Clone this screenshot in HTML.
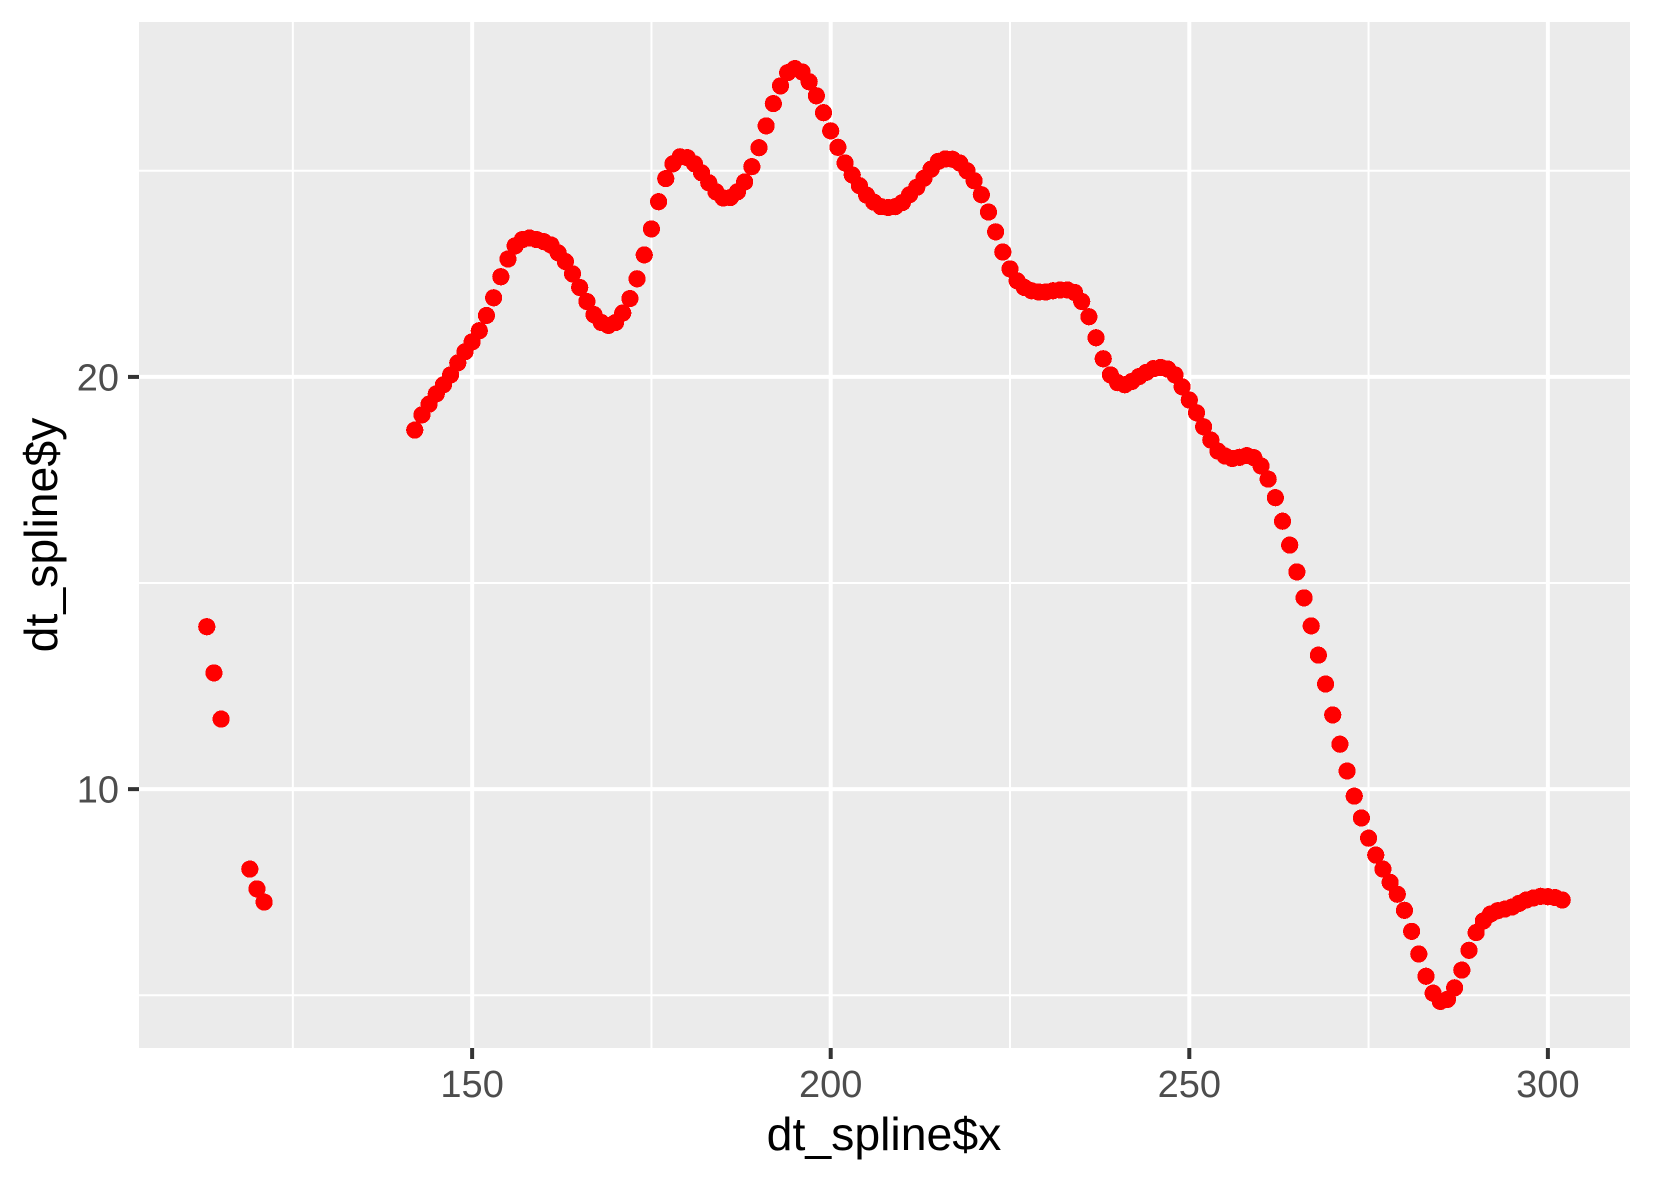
<!DOCTYPE html>
<html lang="en">
<head>
<meta charset="utf-8">
<title>dt_spline scatter plot</title>
<style>
html,body{margin:0;padding:0;background:#fff;}
svg{display:block;}
text{font-family:"Liberation Sans",Arial,sans-serif;}
</style>
</head>
<body>
<svg id="chart" xmlns="http://www.w3.org/2000/svg" width="1653" height="1181" viewBox="0 0 1653 1181">
  <rect x="0" y="0" width="1653" height="1181" fill="#ffffff"/>
  <rect x="139" y="22" width="1491" height="1026" fill="#ebebeb"/>
  <g id="grid"></g>
  <g id="ticks"></g>
  <g id="points"></g>
  <text x="884" y="1150" font-size="46.4" text-anchor="middle" fill="#000000">dt_spline$x</text>
  <text transform="translate(57,535) rotate(-90)" x="0" y="0" font-size="46.4" text-anchor="middle" fill="#000000">dt_spline$y</text>
</svg>
<script>
const xValues = [
  113,114,115,119,120,121,
  142,143,144,145,146,147,148,149,150,151,152,153,154,155,
  156,157,158,159,160,161,162,163,164,165,166,167,168,169,170,
  171,172,173,174,175,176,177,178,179,180,181,182,183,184,185,
  186,187,188,189,190,191,192,193,194,195,196,197,198,199,200,
  201,202,203,204,205,206,207,208,209,210,211,212,213,214,215,
  216,217,218,219,220,221,222,223,224,225,226,227,228,229,230,
  231,232,233,234,235,236,237,238,239,240,241,242,243,244,245,
  246,247,248,249,250,251,252,253,254,255,256,257,258,259,260,
  261,262,263,264,265,266,267,268,269,270,271,272,273,274,275,
  276,277,278,279,280,281,282,283,284,285,286,287,288,289,290,
  291,292,293,294,295,296,297,298,299,300,301,302
];
const yValues = [
  13.94,12.82,11.70,8.06,7.58,7.26,
  18.71,19.08,19.34,19.59,19.81,20.05,20.34,20.61,20.85,21.12,21.49,21.92,22.43,22.86,
  23.18,23.33,23.37,23.33,23.28,23.20,23.01,22.80,22.50,22.17,21.83,21.51,21.32,21.25,21.32,
  21.55,21.90,22.38,22.96,23.59,24.25,24.81,25.17,25.34,25.32,25.17,24.95,24.71,24.49,24.34,
  24.35,24.49,24.73,25.10,25.56,26.09,26.63,27.06,27.38,27.48,27.40,27.16,26.82,26.41,25.97,
  25.57,25.19,24.90,24.64,24.41,24.24,24.13,24.11,24.13,24.23,24.42,24.60,24.82,25.04,25.23,
  25.29,25.28,25.19,25.00,24.76,24.42,24.00,23.52,23.03,22.62,22.33,22.17,22.09,22.06,22.06,
  22.09,22.11,22.11,22.05,21.83,21.46,20.95,20.44,20.05,19.86,19.81,19.89,20.01,20.11,20.20,
  20.23,20.19,20.05,19.76,19.44,19.13,18.79,18.47,18.20,18.08,18.02,18.05,18.09,18.04,17.84,
  17.52,17.07,16.50,15.92,15.27,14.64,13.96,13.25,12.55,11.80,11.09,10.44,9.83,9.30,8.81,
  8.40,8.06,7.74,7.45,7.06,6.55,6.00,5.46,5.05,4.85,4.90,5.18,5.61,6.09,6.52,
  6.80,6.97,7.05,7.09,7.14,7.23,7.31,7.36,7.40,7.39,7.37,7.31
];
const xTickLabels = [150,200,250,300];
const yTickLabels = [10,20];
const xMinorBreaks = [125,175,225,275];
const yMinorBreaks = [5,15,25];

const SVG_NS = 'http://www.w3.org/2000/svg';
const panel = {left:139, right:1630, top:22, bottom:1048};
const xDomain = [103.55, 311.45];
const yDomain = [3.72, 28.61];

function xScale(v){
  return panel.left + (v - xDomain[0]) / (xDomain[1] - xDomain[0]) * (panel.right - panel.left);
}
function yScale(v){
  return panel.bottom - (v - yDomain[0]) / (yDomain[1] - yDomain[0]) * (panel.bottom - panel.top);
}
function makeLine(parent, x1, y1, x2, y2, color, width){
  const el = document.createElementNS(SVG_NS, 'line');
  el.setAttribute('x1', x1);
  el.setAttribute('y1', y1);
  el.setAttribute('x2', x2);
  el.setAttribute('y2', y2);
  el.setAttribute('stroke', color);
  el.setAttribute('stroke-width', width);
  parent.appendChild(el);
  return el;
}

const grid = document.getElementById('grid');
const ticks = document.getElementById('ticks');
const points = document.getElementById('points');

yMinorBreaks.forEach(function(v){
  const el = makeLine(grid, panel.left, yScale(v), panel.right, yScale(v), '#ffffff', 2);
  
  
});
xMinorBreaks.forEach(function(v){
  const el = makeLine(grid, xScale(v), panel.top, xScale(v), panel.bottom, '#ffffff', 2);
  
  
});
yTickLabels.forEach(function(v){
  const el = makeLine(grid, panel.left, yScale(v), panel.right, yScale(v), '#ffffff', 4);
  
  
});
xTickLabels.forEach(function(v){
  const el = makeLine(grid, xScale(v), panel.top, xScale(v), panel.bottom, '#ffffff', 4);
  
  
});

xTickLabels.forEach(function(v){
  const mark = makeLine(ticks, xScale(v), panel.bottom, xScale(v), panel.bottom + 11, '#333333', 4);
  
  
  const label = document.createElementNS(SVG_NS, 'text');
  
  
  label.setAttribute('x', xScale(v));
  label.setAttribute('y', 1097);
  label.setAttribute('font-size', '38');
  label.setAttribute('text-anchor', 'middle');
  label.setAttribute('fill', '#4d4d4d');
  label.textContent = v;
  ticks.appendChild(label);
});
yTickLabels.forEach(function(v){
  const mark = makeLine(ticks, panel.left - 11, yScale(v), panel.left, yScale(v), '#333333', 4);
  
  
  const label = document.createElementNS(SVG_NS, 'text');
  
  
  label.setAttribute('x', 119);
  label.setAttribute('y', yScale(v) + 13.5);
  label.setAttribute('font-size', '38');
  label.setAttribute('text-anchor', 'end');
  label.setAttribute('fill', '#4d4d4d');
  label.textContent = v;
  ticks.appendChild(label);
});

xValues.forEach(function(xv, i){
  const el = document.createElementNS(SVG_NS, 'circle');
  
  
  el.setAttribute('cx', xScale(xv));
  el.setAttribute('cy', yScale(yValues[i]));
  el.setAttribute('r', 8.6);
  el.setAttribute('fill', '#ff0000');
  el.setAttribute('shape-rendering', 'crispEdges');
  points.appendChild(el);
});
</script>
</body>
</html>
